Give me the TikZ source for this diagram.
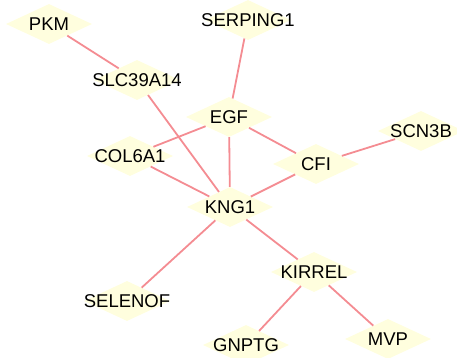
\documentclass[tikz,border=0pt]{standalone}
\usepackage{fontspec}
\setmainfont{Liberation Sans}
\usetikzlibrary{shapes.geometric}
\definecolor{nodefill}{RGB}{255,254,222}
\definecolor{edgecol}{RGB}{244,140,146}
\tikzset{
  gene/.style={shape=diamond, fill=nodefill, draw=none, inner sep=0pt,
    minimum width=86pt, minimum height=40pt,
    label={[font=\fontsize{18.5}{20}\selectfont, text=black]center:#1}},
  link/.style={draw=edgecol, line width=1.8pt}
}
\begin{document}
\begin{tikzpicture}[x=1pt,y=-1pt]
\useasboundingbox (0,0) rectangle (457,358);
\node[gene=PKM] (pkm) at (49,24) {};
\node[gene=SLC39A14] (slc) at (137,80) {};
\node[gene=SERPING1] (serp) at (248,20) {};
\node[gene=EGF] (egf) at (229,117) {};
\node[gene=COL6A1] (col) at (130,156) {};
\node[gene=CFI] (cfi) at (316,164) {};
\node[gene=SCN3B] (scn) at (421,131) {};
\node[gene=KNG1] (kng) at (230,207) {};
\node[gene=SELENOF] (sel) at (127,301) {};
\node[gene=KIRREL] (kir) at (314,272) {};
\node[gene=GNPTG] (gnp) at (246,345) {};
\node[gene=MVP] (mvp) at (388,339) {};
\draw[link] (pkm) -- (slc);
\draw[link] (slc) -- (kng);
\draw[link] (serp) -- (egf);
\draw[link] (egf) -- (col);
\draw[link] (egf) -- (kng);
\draw[link] (egf) -- (cfi);
\draw[link] (cfi) -- (scn);
\draw[link] (cfi) -- (kng);
\draw[link] (col) -- (kng);
\draw[link] (kng) -- (sel);
\draw[link] (kng) -- (kir);
\draw[link] (kir) -- (gnp);
\draw[link] (kir) -- (mvp);
\end{tikzpicture}
\end{document}
